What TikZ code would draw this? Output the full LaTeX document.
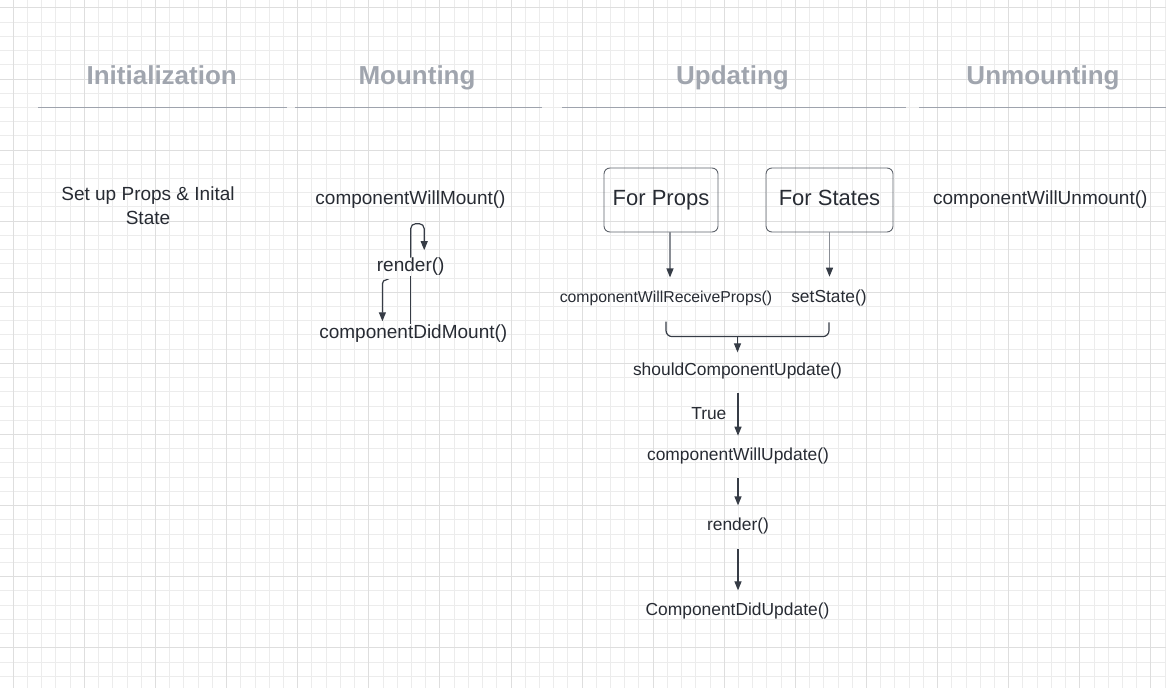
\documentclass[tikz,border=0pt]{standalone}
\usepackage{fontspec}
\setmainfont{Liberation Sans}
\usetikzlibrary{arrows.meta, positioning, calc}

\definecolor{gridminor}{HTML}{ECECEC}
\definecolor{gridmajor}{HTML}{DEDEDE}
\definecolor{phasegray}{HTML}{A0A5AE}
\definecolor{dividergray}{HTML}{9EA3AD}
\definecolor{textdark}{HTML}{272B33}
\definecolor{arrowdark}{HTML}{363C46}
\definecolor{arrowlight}{HTML}{8A8E95}
\definecolor{boxgray}{HTML}{5E636B}

\tikzset{
  phase/.style={font=\fontsize{26}{30}\selectfont\bfseries, text=phasegray, anchor=base, inner sep=0pt},
  divider/.style={draw=dividergray, line width=1.3pt},
  hook/.style={font=\fontsize{19}{23.5}\selectfont, text=textdark, inner sep=0pt, align=center},
  call/.style={font=\fontsize{17.4}{21}\selectfont, text=textdark, inner sep=0pt},
  trigger/.style={draw=boxgray, rounded corners=6pt, line width=0.9pt, minimum height=64pt,
    text height=16pt, text depth=4.6pt, font=\fontsize{22}{26}\selectfont, text=textdark},
  flow/.style={draw=arrowdark, line width=1.2pt, -{Triangle[length=9pt,width=7pt]}},
  next/.style={flow, shorten <=14pt, shorten >=12pt},
  feed/.style={flow, draw=arrowlight, -{Triangle[length=9pt,width=7pt,color=arrowdark]}},
}

\begin{document}
\begin{tikzpicture}[x=1pt, y=-1pt]
\useasboundingbox (0,0) rectangle (1166,688);
% grid paper, snapped to whole pixels
\foreach \k in {-1,...,81} \draw[gridminor, line width=1pt] ({floor(13.3+14.22*\k)+0.5},0) -- ++(0,688);
\foreach \k in {0,...,47} \draw[gridminor, line width=1pt] (0,{floor(7.9+14.22*\k)+0.5}) -- ++(1166,0);
\foreach \k in {0,...,16} \draw[gridmajor, line width=1.5pt] ({floor(13.3+71.1*\k)+0.5},0) -- ++(0,688);
\foreach \k in {0,...,9} \draw[gridmajor, line width=1.5pt] (0,{floor(7.9+71.1*\k)+0.5}) -- ++(1166,0);

% phase headings
\node[phase] (init) at (161.7,84) {Initialization};
\node[phase] (mount) at (417,84) {Mounting};
\node[phase] (update) at (732.5,84) {Updating};
\node[phase] (unmount) at (1043,84) {Unmounting};
\draw[divider] (38,107.7) -- (287,107.7);
\draw[divider] (295,107.7) -- (541.7,107.7);
\draw[divider] (562.3,107.7) -- (905.7,107.7);
\draw[divider] (919,107.7) -- (1166,107.7);

% initialization
\node[hook] (setup) at (148,205.5) {Set up Props \& Inital\\State};

% mounting
\node[hook] (willmount) at (410.5,199.3) {componentWillMount()};
\node[hook] (mrender) at (410.7,266.7) {render()};
\node[hook] (didmount) at (413.3,333.3) {componentDidMount()};
\draw[flow, rounded corners=5pt] (mrender.north) -- ++(0,-34) -- ++(13.5,0) -- ++(0,26.5);
\draw[draw=arrowdark, line width=1.2pt] (mrender.south) -- (didmount.north -| mrender.south);
\coordinate (bend) at ([xshift=-24.5pt, yshift=-4pt]mrender.south);
\draw[flow, rounded corners=4pt] (bend) -- ++(-3.8,0) -- ++(0,41.5);

% updating
\node[trigger, minimum width=114pt] (props) at (661,200) {For Props};
\node[trigger, minimum width=127pt] (states) at (829.5,200) {For States};
\node[call, font=\fontsize{15.8}{19}\selectfont] (willreceive) at (666,298) {componentWillReceiveProps()};
\node[call] (setst) at (829,298) {setState()};
\coordinate (propsout) at ([xshift=9pt]props.south);
\draw[feed, shorten >=13pt] (propsout) -- (propsout |- willreceive.north);
\draw[feed, shorten >=13pt] (states.south) -- (states.south |- setst.north);
\node[call] (should) at (737.5,370.7) {shouldComponentUpdate()};
\draw[draw=arrowdark, line width=1.2pt, rounded corners=6pt]
  ([yshift=-16pt]willreceive.south) -- ++(0,15) -| ([yshift=-16pt]setst.south);
\coordinate (merge) at ([yshift=-15pt]willreceive.south -| should.north);
\draw[flow, shorten >=10pt] ([yshift=-16pt]merge) -- (should.north);
\node[call] (willupdate) at (738,456) {componentWillUpdate()};
\node[call] (urender) at (738,525.7) {render()};
\node[call] (didupdate) at (737.5,610.7) {ComponentDidUpdate()};
\draw[next] (should.south -| urender.south) -- node[call, midway, left=11pt] (truelbl) {True} (willupdate.north -| urender.south);
\draw[next] (willupdate.south -| urender.south) -- (urender.north);
\draw[next, shorten <=15pt] (urender.south) -- (didupdate.north -| urender.south);

% unmounting
\node[hook] (willunmount) at (1040.3,199.3) {componentWillUnmount()};
\end{tikzpicture}
\end{document}
